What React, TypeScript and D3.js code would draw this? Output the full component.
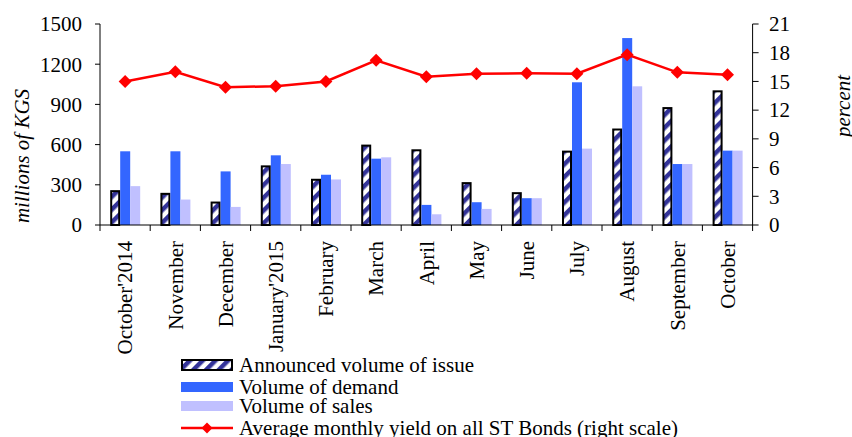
import React, { useRef, useEffect } from 'react';
import * as d3 from 'd3';

const months = [
  "October'2014", 'November', 'December', "January'2015", 'February', 'March',
  'April', 'May', 'June', 'July', 'August', 'September', 'October',
];
const announced = [260, 240, 175, 445, 345, 600, 565, 320, 245, 555, 720, 880, 1005];
const demand = [550, 550, 400, 520, 375, 495, 150, 170, 200, 1065, 1395, 455, 555];
const sales = [290, 190, 135, 455, 340, 505, 80, 120, 200, 570, 1035, 455, 555];
const yieldPct = [15.0, 16.0, 14.4, 14.5, 15.0, 17.2, 15.5, 15.8, 15.85, 15.8, 17.8, 15.95, 15.7];

const leftTicks = [0, 300, 600, 900, 1200, 1500];
const rightTicks = [0, 3, 6, 9, 12, 15, 18, 21];
const seriesKeys = ['announced', 'demand', 'sales'];
const legendLabels = [
  'Announced volume of issue',
  'Volume of demand',
  'Volume of sales',
  'Average monthly yield on all ST Bonds (right scale)',
];

const FONT = "'Liberation Serif', 'Times New Roman', serif";
const NAVY = '#333399';
const BLUE = '#3366FF';
const LAVENDER = '#C0C0FF';
const RED = '#FF0000';

const diamond = (r: number) => `M0,${-r}L${r},0L0,${r}L${-r},0Z`;

const App: React.FC = () => {
  const svgRef = useRef<SVGSVGElement>(null);

  useEffect(() => {
    if (!svgRef.current) return;
    const svg = d3.select(svgRef.current);
    svg.selectAll('*').remove();

    const left = 100;
    const right = 752.6;
    const top = 24;
    const bottom = 225;

    const x = d3.scaleBand<string>().domain(months).range([left, right]).padding(0);
    const x1 = d3.scaleBand<string>().domain(seriesKeys).range([10.2, 40.2]).padding(0);
    const yL = d3.scaleLinear().domain([0, 1500]).range([bottom, top]);
    const yR = d3.scaleLinear().domain([0, 21]).range([bottom, top]);

    // hatch pattern for announced volume
    const defs = svg.append('defs');
    const pat = defs.append('pattern')
      .attr('id', 'hatch')
      .attr('patternUnits', 'userSpaceOnUse')
      .attr('width', 9)
      .attr('height', 9)
      .attr('patternTransform', 'rotate(-45)');
    pat.append('rect').attr('width', 9).attr('height', 9).attr('fill', '#fff');
    pat.append('rect').attr('width', 9).attr('height', 4.5).attr('fill', NAVY);

    const g = svg.append('g');

    // bars
    const bw = x1.bandwidth();
    months.forEach((m, i) => {
      const bx = x(m)!;
      // announced (hatched with black border)
      g.append('rect')
        .attr('x', bx + x1('announced')! + 1)
        .attr('y', yL(announced[i]) + 1)
        .attr('width', bw - 2)
        .attr('height', yL(0) - yL(announced[i]) - 1)
        .attr('fill', 'url(#hatch)')
        .attr('stroke', '#000')
        .attr('stroke-width', 2);
      g.append('rect')
        .attr('x', bx + x1('demand')!)
        .attr('y', yL(demand[i]))
        .attr('width', bw)
        .attr('height', yL(0) - yL(demand[i]))
        .attr('fill', BLUE);
      g.append('rect')
        .attr('x', bx + x1('sales')!)
        .attr('y', yL(sales[i]))
        .attr('width', bw)
        .attr('height', yL(0) - yL(sales[i]))
        .attr('fill', LAVENDER);
    });

    // axes
    const axisColor = '#000';
    g.append('line').attr('x1', left).attr('x2', left).attr('y1', top).attr('y2', bottom)
      .attr('stroke', axisColor);
    g.append('line').attr('x1', right).attr('x2', right).attr('y1', top).attr('y2', bottom)
      .attr('stroke', axisColor);
    g.append('line').attr('x1', left).attr('x2', right).attr('y1', bottom).attr('y2', bottom)
      .attr('stroke', axisColor);

    leftTicks.forEach(t => {
      g.append('line').attr('x1', left - 5).attr('x2', left).attr('y1', yL(t)).attr('y2', yL(t))
        .attr('stroke', axisColor);
      g.append('text').attr('x', 82).attr('y', yL(t)).attr('dy', '0.35em')
        .attr('text-anchor', 'end').style('font-family', FONT).style('font-size', '21px')
        .text(t);
    });
    rightTicks.forEach(t => {
      g.append('line').attr('x1', right).attr('x2', right + 6).attr('y1', yR(t)).attr('y2', yR(t))
        .attr('stroke', axisColor);
      g.append('text').attr('x', 769).attr('y', yR(t)).attr('dy', '0.35em')
        .attr('text-anchor', 'start').style('font-family', FONT).style('font-size', '21px')
        .text(t);
    });

    // category ticks at band boundaries
    const bounds = months.map(m => x(m)!).concat([right]);
    bounds.forEach(b => {
      g.append('line').attr('x1', b).attr('x2', b).attr('y1', bottom).attr('y2', bottom + 6)
        .attr('stroke', axisColor);
    });
    months.forEach(m => {
      const cx = x(m)! + x.bandwidth() / 2;
      g.append('text')
        .attr('transform', `translate(${cx},241) rotate(-90)`)
        .attr('dy', '0.35em')
        .attr('text-anchor', 'end')
        .style('font-family', FONT).style('font-size', '21px')
        .text(m);
    });

    // axis titles
    g.append('text')
      .attr('transform', 'translate(29,156) rotate(-90)')
      .attr('text-anchor', 'middle')
      .style('font-family', FONT).style('font-size', '21px').style('font-style', 'italic')
      .text('millions of KGS');
    g.append('text')
      .attr('transform', 'translate(850,106) rotate(-90)')
      .attr('text-anchor', 'middle')
      .style('font-family', FONT).style('font-size', '21px').style('font-style', 'italic')
      .text('percent');

    // yield line
    const line = d3.line<number>()
      .x((_, i) => x(months[i])! + x.bandwidth() / 2)
      .y(d => yR(d));
    g.append('path').datum(yieldPct)
      .attr('d', line)
      .attr('fill', 'none')
      .attr('stroke', RED)
      .attr('stroke-width', 2.5);
    g.append('g').selectAll('path')
      .data(yieldPct)
      .join('path')
      .attr('transform', (d, i) => `translate(${x(months[i])! + x.bandwidth() / 2},${yR(d)})`)
      .attr('d', diamond(6.5))
      .attr('fill', RED);

    // legend
    const lg = svg.append('g');
    const rowY = [365, 387, 406, 428];
    const sx0 = 181;
    const sx1 = 233;
    lg.append('rect').attr('x', sx0 + 1).attr('y', rowY[0] - 5).attr('width', sx1 - sx0 - 2).attr('height', 10)
      .attr('fill', 'url(#hatch)').attr('stroke', '#000').attr('stroke-width', 2);
    lg.append('rect').attr('x', sx0).attr('y', rowY[1] - 5).attr('width', sx1 - sx0).attr('height', 10)
      .attr('fill', BLUE);
    lg.append('rect').attr('x', sx0).attr('y', rowY[2] - 5).attr('width', sx1 - sx0).attr('height', 10)
      .attr('fill', LAVENDER);
    lg.append('line').attr('x1', sx0).attr('x2', sx1).attr('y1', rowY[3]).attr('y2', rowY[3])
      .attr('stroke', RED).attr('stroke-width', 2.5);
    lg.append('path').attr('transform', `translate(${(sx0 + sx1) / 2},${rowY[3]})`)
      .attr('d', diamond(5.5)).attr('fill', RED);
    legendLabels.forEach((t, i) => {
      lg.append('text').attr('x', 239).attr('y', rowY[i] + 7)
        .style('font-family', FONT).style('font-size', '21px')
        .text(t);
    });
  }, []);

  return (
    <svg
      ref={svgRef}
      width={852}
      height={437}
      style={{ position: 'absolute', left: 0, top: 0, background: '#fff' }}
    />
  );
};

export default App;
